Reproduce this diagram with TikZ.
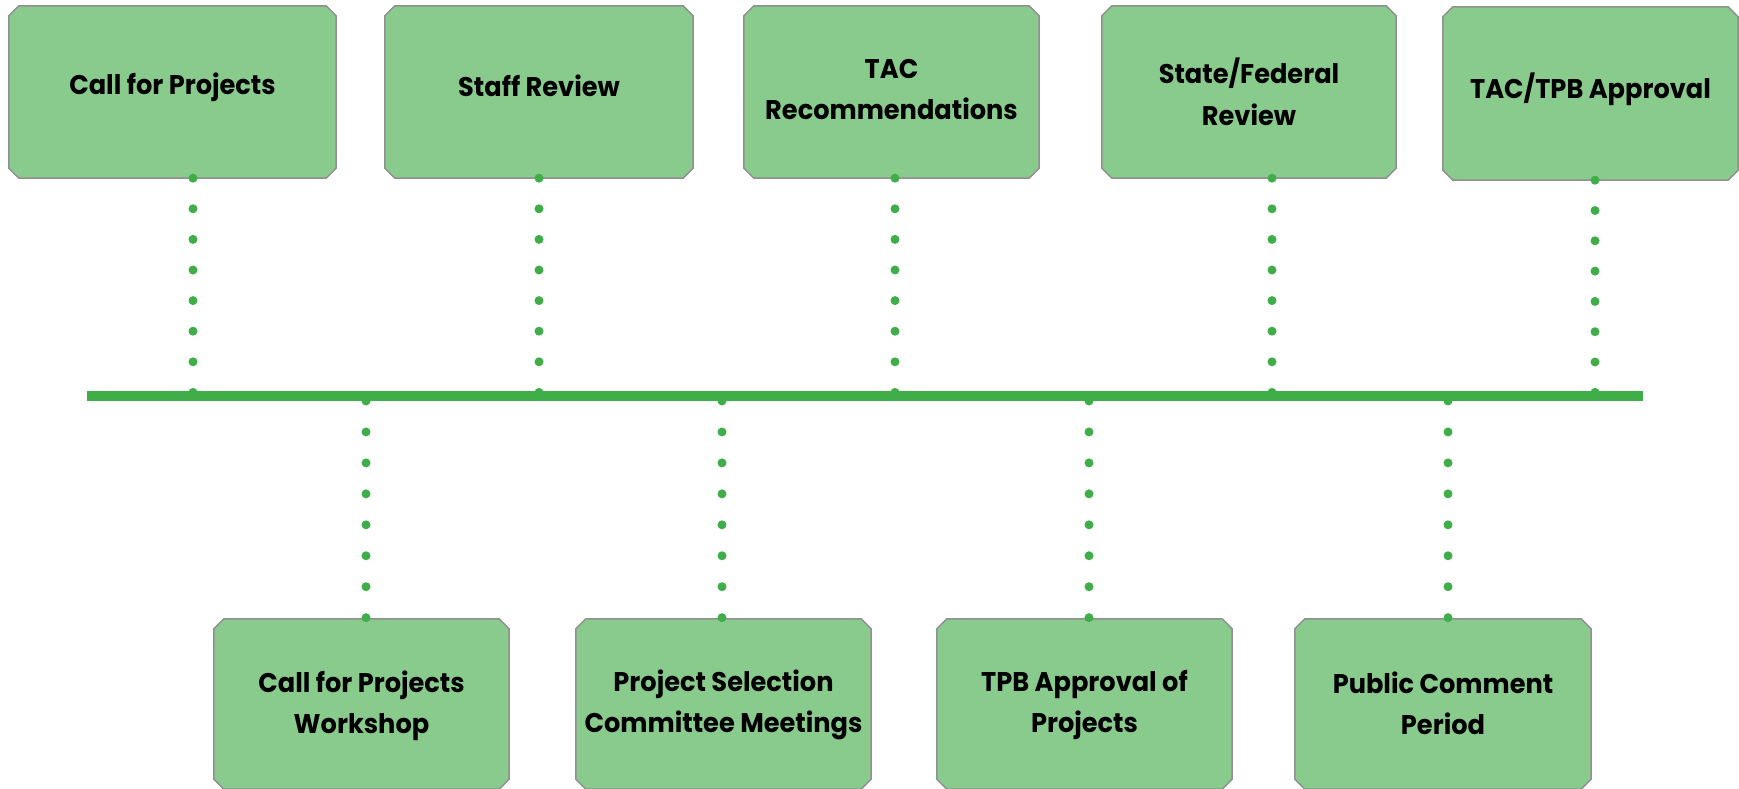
\documentclass[tikz,border=0pt]{standalone}
\usepackage{fontspec}
\setmainfont{Poppins}[FakeStretch=0.95]
\definecolor{boxfill}{HTML}{89CA8D}
\definecolor{boxedge}{HTML}{8F8F8F}
\definecolor{tlgreen}{HTML}{3FAE49}
\tikzset{
  stagebox/.style={rectangle, draw=none, fill=none, inner sep=0pt, minimum height=172pt},
  boxpaint/.style={fill=boxfill, draw=boxedge, line width=1.5pt},
  lbl/.style={font=\bfseries\fontsize{27}{41}\selectfont, align=center,
    text=black, inner sep=0pt, anchor=base},
  dotconn/.style={draw=tlgreen, line width=9pt, line cap=round,
    dash pattern=on 0pt off 30.6pt},
  timeline/.style={draw=tlgreen, line width=10pt}
}
\begin{document}
\begin{tikzpicture}[x=1pt,y=-1pt]
\useasboundingbox (0,0) rectangle (1739,789);
\clip (0,0) rectangle (1739,789);
% top boxes
\node[stagebox, minimum width=327pt] (t1) at (172.5,92) {};
\node[stagebox, minimum width=308pt] (t2) at (539,92) {};
\node[stagebox, minimum width=295pt] (t3) at (891.5,92) {};
\node[stagebox, minimum width=294pt] (t4) at (1249,92) {};
\node[stagebox, minimum width=295pt, minimum height=173pt] (t5) at (1590.5,93.5) {};
% bottom boxes
\node[stagebox, minimum width=295pt, minimum height=170pt] (b1) at (361.5,704) {};
\node[stagebox, minimum width=295pt, minimum height=170pt] (b2) at (723.5,704) {};
\node[stagebox, minimum width=295pt, minimum height=170pt] (b3) at (1084.5,704) {};
\node[stagebox, minimum width=296pt, minimum height=170pt] (b4) at (1443,704) {};
% chamfered outlines of the boxes
\foreach \n in {t1,t2,t3,t4,t5,b1,b2,b3,b4}{
  \path[boxpaint] ([xshift=10pt]\n.north west) -- ([xshift=-10pt]\n.north east)
    -- ([yshift=-10pt]\n.north east) -- ([yshift=10pt]\n.south east)
    -- ([xshift=-10pt]\n.south east) -- ([xshift=10pt]\n.south west)
    -- ([yshift=10pt]\n.south west) -- ([yshift=-10pt]\n.north west) -- cycle;
}
% labels
\node[lbl] (l1) at (172.5,95) {Call for Projects};
\node[lbl] (l2) at (539,96.5) {Staff Review};
\node[lbl] (l3) at (891.5,120) {TAC\\Recommendations};
\node[lbl] (l4) at (1249,125) {State/Federal\\Review};
\node[lbl] (l5) at (1590.5,99) {TAC/TPB Approval};
\node[lbl] (m1) at (361.5,733) {Call for Projects\\Workshop};
\node[lbl] (m2) at (723.5,732) {Project Selection\\Committee Meetings};
\node[lbl] (m3) at (1084.5,732) {TPB Approval of\\Projects};
\node[lbl] (m4) at (1443,734) {Public Comment\\Period};
% timeline
\coordinate (tlA) at (87,396);
\coordinate (tlB) at (1643,396);
\draw[timeline] (tlA) -- (tlB);
% top dotted connectors
\coordinate (d1) at (193,394.5);
\coordinate (d2) at (539,394.5);
\coordinate (d3) at (895,394.5);
\coordinate (d4) at (1272,394.5);
\coordinate (d5) at (1595,394.5);
\draw[dotconn] (d1 |- t1.south) -- (d1);
\draw[dotconn] (d2 |- t2.south) -- (d2);
\draw[dotconn] (d3 |- t3.south) -- (d3);
\draw[dotconn] (d4 |- t4.south) -- (d4);
\draw[dotconn, dash pattern=on 0pt off 30.3pt] (d5 |- t5.south) -- (d5);
% bottom dotted connectors
\coordinate (e1) at (366,401);
\coordinate (e2) at (722,401);
\coordinate (e3) at (1089,401);
\coordinate (e4) at (1448,401);
\draw[dotconn, dash pattern=on 0pt off 30.95pt] (e1) -- (e1 |- b1.north);
\draw[dotconn, dash pattern=on 0pt off 30.95pt] (e2) -- (e2 |- b2.north);
\draw[dotconn, dash pattern=on 0pt off 30.95pt] (e3) -- (e3 |- b3.north);
\draw[dotconn, dash pattern=on 0pt off 30.95pt] (e4) -- (e4 |- b4.north);
\end{tikzpicture}
\end{document}
